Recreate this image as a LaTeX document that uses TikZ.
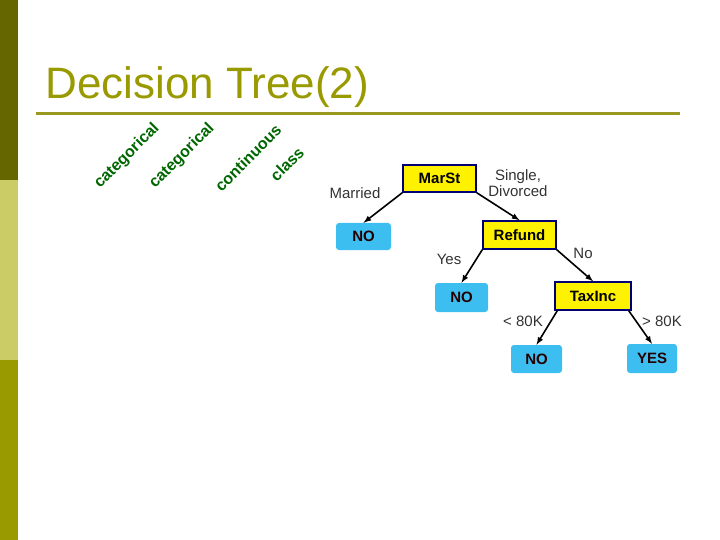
\documentclass[tikz,border=0pt]{standalone}
\usepackage{fontspec}
\setmainfont{Liberation Sans}
\begin{document}
\begin{tikzpicture}[x=1pt,y=-1pt,
 dec/.style={draw=blue!45!black,line width=1.5pt,fill=yellow,font=\bfseries\fontsize{15}{17}\selectfont,inner sep=0pt},
 leaf/.style={fill=leafc,rounded corners=3pt,font=\bfseries\fontsize{15}{17}\selectfont,text=black!85!red,inner sep=0pt},
 lab/.style={font=\fontsize{15}{16}\selectfont,text=black!80,align=center},
 rot/.style={rotate=45,font=\bfseries\fontsize{16}{18}\selectfont,text=green!40!black},
 arr/.style={-latex,line width=1.6pt}]
\definecolor{leafc}{RGB}{60,190,240}
\useasboundingbox (0,0) rectangle (720,540);
\fill[fill={rgb,255:red,102;green,102;blue,0}] (0,0) rectangle (18,180);
\fill[fill={rgb,255:red,204;green,204;blue,102}] (0,180) rectangle (18,360);
\fill[fill={rgb,255:red,153;green,153;blue,0}] (0,360) rectangle (18,540);
\draw[line width=3pt,draw={rgb,255:red,153;green,153;blue,34}] (36,114) -- (680,114);
\node[anchor=base west,text={rgb,255:red,153;green,153;blue,0},font=\fontsize{44}{50}\selectfont] (title) at (42,99) {Decision Tree(2)};
\node[rot] (c1) at (127,156) {categorical};
\node[rot] (c2) at (182,156) {categorical};
\node[rot] (c3) at (248,158) {continuous};
\node[rot] (c4) at (287,164) {class};
\node[dec,minimum width=73,minimum height=27] (mar) at (439.5,178.5) {MarSt};
\node[dec,minimum width=73,minimum height=28] (ref) at (519.5,235) {Refund};
\node[dec,minimum width=76,minimum height=28] (tax) at (593,296) {TaxInc};
\node[leaf,minimum width=55,minimum height=27] (n1) at (363.5,236.5) {NO};
\node[leaf,minimum width=53,minimum height=29] (n2) at (461.5,297.5) {NO};
\node[leaf,minimum width=51,minimum height=28] (n3) at (536.5,359) {NO};
\node[leaf,minimum width=50,minimum height=29] (n4) at (652,358.5) {YES};
\draw[arr] (mar.south west) -- (n1.north);
\draw[arr] (mar.south east) -- (ref.north);
\draw[arr] (ref.south west) -- (n2.north);
\draw[arr] (ref.south east) -- (tax.north);
\draw[arr] ([xshift=3]tax.south west) -- (n3.north);
\draw[arr] ([xshift=-3]tax.south east) -- (n4.north);
\node[lab] (l1) at (355,193) {Married};
\node[lab] (l2) at (518,183) {Single,\\Divorced};
\node[lab] (l3) at (449,259) {Yes};
\node[lab] (l4) at (583,253) {No};
\node[lab] (l5) at (523,321) {< 80K};
\node[lab] (l6) at (662,321) {> 80K};
\end{tikzpicture}
\end{document}
